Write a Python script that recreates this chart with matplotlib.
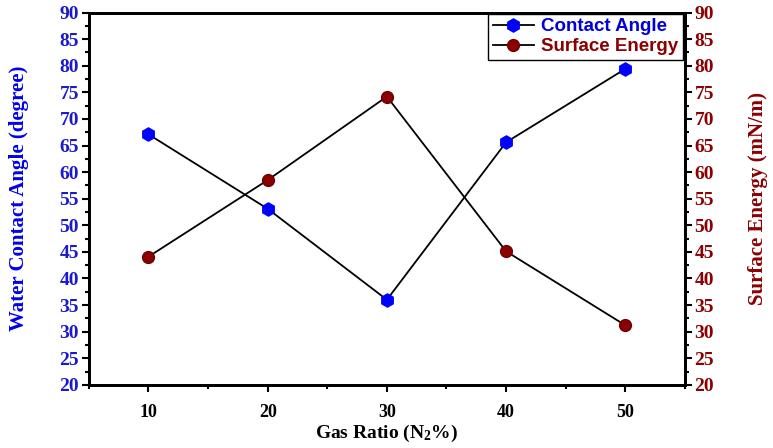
import matplotlib
matplotlib.use("Agg")
import matplotlib.pyplot as plt
from matplotlib.ticker import MultipleLocator
from matplotlib.lines import Line2D

plt.rcParams["mathtext.fontset"] = "custom"
plt.rcParams["mathtext.rm"] = "Liberation Serif:bold"
plt.rcParams["mathtext.it"] = "Liberation Serif:bold"
plt.rcParams["mathtext.bf"] = "Liberation Serif:bold"

gas_ratio = [10, 20, 30, 40, 50]
contact_angle = [67.1, 53.1, 36.0, 65.6, 79.4]
surface_energy = [44.1, 58.5, 74.2, 45.1, 31.2]

blue = "#0000ee"
dred = "#8b0000"
serif = "Liberation Serif"

fig = plt.figure(figsize=(7.73, 4.48), dpi=100)
ax = fig.add_axes([0.115, 0.141, 0.771, 0.831])
ax2 = ax.twinx()

ax.plot(gas_ratio, contact_angle, color="black", lw=1.3, marker="h", ms=9.5,
        mfc="#0000ff", mec="#0000ff", zorder=3)
ax2.plot(gas_ratio, surface_energy, color="black", lw=1.3, marker="o", ms=8.5,
         mfc="#8b0000", mec="#700000", zorder=3)

ax.set_xlim(5, 55)
ax.set_ylim(20, 90)
ax2.set_ylim(20, 90)
ax.xaxis.set_major_locator(MultipleLocator(10))
ax.xaxis.set_minor_locator(MultipleLocator(5))
for a in (ax, ax2):
    a.yaxis.set_major_locator(MultipleLocator(5))
    a.yaxis.set_minor_locator(MultipleLocator(2.5))

ax.tick_params(axis="x", which="major", direction="out", length=5, width=1.5,
               labelsize=13, pad=9)
ax.tick_params(axis="x", which="minor", direction="out", length=3, width=1.5)
ax.tick_params(axis="y", which="major", direction="out", length=5, width=1.5,
               labelsize=14, labelcolor="#1a1acc", pad=2)
ax.tick_params(axis="y", which="minor", direction="out", length=3, width=1.5)
ax2.tick_params(axis="y", which="major", direction="out", length=5, width=1.5,
                labelsize=14, labelcolor=dred, pad=2)
ax2.tick_params(axis="y", which="minor", direction="out", length=3, width=1.5)

for a in (ax, ax2):
    for s in a.spines.values():
        s.set_linewidth(2)
    for lab in a.get_xticklabels() + a.get_yticklabels():
        lab.set_fontfamily(serif)
        lab.set_fontweight("bold")

ax.set_xlabel("Gas Ratio (N$_2$%)", fontsize=14, fontweight="bold",
              fontfamily=serif, labelpad=1)
ax.set_ylabel("Water Contact Angle (degree)", fontsize=15, fontweight="bold",
              fontfamily=serif, color=blue, labelpad=22)
ax2.set_ylabel("Surface Energy (mN/m)", fontsize=15, fontweight="bold",
               fontfamily=serif, color=dred, labelpad=24)

handles = [
    Line2D([], [], color="black", lw=1.3, marker="h", ms=9.5, mfc="#0000ff", mec="#0000ff"),
    Line2D([], [], color="black", lw=1.3, marker="o", ms=8.5, mfc="#8b0000", mec="#700000"),
]
leg = ax.legend(handles, ["Contact Angle", "Surface Energy"], loc="upper right",
                bbox_to_anchor=(0.997, 0.997), borderaxespad=0, fancybox=False,
                edgecolor="black", framealpha=1, handlelength=2.2, handletextpad=0.4,
                labelspacing=0.15, borderpad=0.25,
                prop={"family": "Liberation Sans", "weight": "bold", "size": 13.5})
leg.get_frame().set_linewidth(1.0)
leg.get_texts()[0].set_color("#0000dd")
leg.get_texts()[1].set_color(dred)
leg.set_zorder(5)
ax.set_zorder(ax2.get_zorder() + 1)
ax.patch.set_visible(False)

fig.savefig("out.png", dpi=100)
